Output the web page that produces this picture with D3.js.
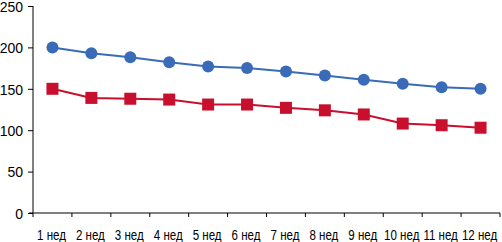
<!DOCTYPE html>
<html>
<head>
<meta charset="utf-8">
<script src="https://cdn.jsdelivr.net/npm/d3@7"></script>
<style>
  body { margin: 0; background: #fff; }
  text { font-family: "Liberation Sans", Arial, sans-serif; }
</style>
</head>
<body>
<div id="chart"></div>
<script>
let weeks = ["1 нед", "2 нед", "3 нед", "4 нед", "5 нед", "6 нед", "7 нед", "8 нед", "9 нед", "10 нед", "11 нед", "12 нед"];
let blueValues = [200, 193, 188, 182, 177, 175, 171, 166, 161, 156, 152, 150];
let redValues = [150, 139, 138, 137, 131, 131, 127, 124, 119, 108, 106, 103];
let yTicks = [0, 50, 100, 150, 200, 250];

let height = 242,
  width = 502,
  margin = ({ top: 6, right: 2, bottom: 29, left: 33 });

let x = d3.scaleBand()
  .domain(weeks)
  .range([margin.left, width - margin.right]);

let y = d3.scaleLinear()
  .domain([0, 250])
  .range([height - margin.bottom, margin.top]);

const svg = d3.select("#chart")
  .append("svg")
  .attr("width", width)
  .attr("height", height);

// x axis: ticks at band edges
let xAxis = svg.append("g")
  .attr("transform", `translate(0,${y(0)})`);

xAxis.append("line")
  .attr("x1", margin.left - 4)
  .attr("x2", width - margin.right)
  .attr("stroke", "#000");

xAxis.selectAll(".tick")
  .data(weeks.concat(["end"]))
  .join("line")
  .attr("x1", (d, i) => margin.left + i * x.step())
  .attr("x2", (d, i) => margin.left + i * x.step())
  .attr("y1", 0)
  .attr("y2", 4)
  .attr("stroke", "#000");

xAxis.selectAll(".label")
  .data(weeks)
  .join("text")
  .attr("transform", d => `translate(${x(d) + x.bandwidth() / 2 - 1},27) scale(0.77,1)`)
  .attr("text-anchor", "middle")
  .attr("font-size", 15)
  .attr("fill", "#000")
  .text(d => d);

svg.append("g")
  .attr("transform", `translate(${margin.left},0)`)
  .call(d3.axisLeft(y).tickValues(yTicks).tickSize(5).tickPadding(5))
  .call(g => g.select(".domain").attr("d", `M0,${y(250)}V${y(0)}`))
  .call(g => g.selectAll("text").attr("font-size", 14).attr("fill", "#000")
    .attr("dy", "0.38em")
    .style("font-family", '"Liberation Sans", Arial, sans-serif'));

let cx = d => x(d) + x.bandwidth() / 2;

let line = d3.line()
  .x((d, i) => cx(weeks[i]))
  .y(d => y(d));

svg.append("path")
  .datum(redValues)
  .attr("fill", "none")
  .attr("stroke", "#c8102e")
  .attr("stroke-width", 2)
  .attr("d", line);

svg.selectAll(".sq")
  .data(redValues)
  .join("rect")
  .attr("x", (d, i) => cx(weeks[i]) - 6)
  .attr("y", d => y(d) - 6)
  .attr("width", 12)
  .attr("height", 12)
  .attr("fill", "#c8102e");

svg.append("path")
  .datum(blueValues)
  .attr("fill", "none")
  .attr("stroke", "#3a6bb8")
  .attr("stroke-width", 2)
  .attr("d", line);

svg.selectAll(".dot")
  .data(blueValues)
  .join("circle")
  .attr("cx", (d, i) => cx(weeks[i]))
  .attr("cy", d => y(d))
  .attr("r", 6)
  .attr("fill", "#3a6bb8");
</script>
</body>
</html>
